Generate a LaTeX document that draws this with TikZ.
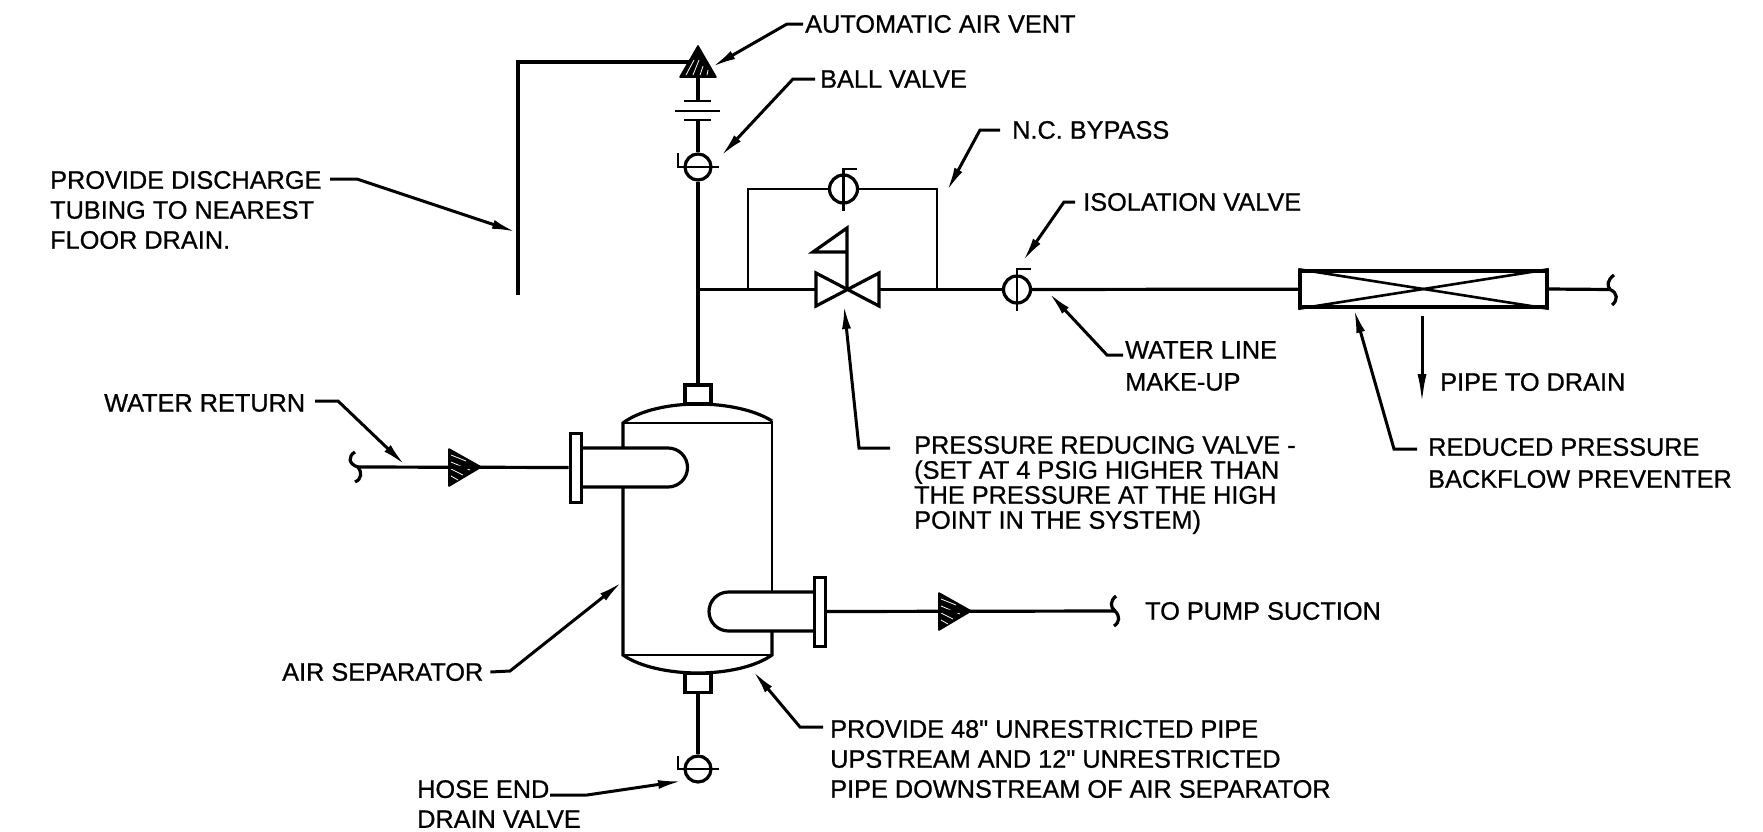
\documentclass[tikz,border=0pt]{standalone}
\usepackage{fontspec}
\setmainfont{Liberation Sans}[Ligatures=TeXOff, RawFeature={embolden=0.8}]
\usetikzlibrary{arrows.meta}
\usetikzlibrary{shapes.geometric}

\tikzset{
  pipe/.style={line width=3.2pt},
  thinpipe/.style={line width=2.6pt},
  leader/.style={line width=3pt, -{Latex[length=24pt, width=9pt]}},
  hatch/.style={white, line width=0.8pt},
  arrowhead/.style={line width=1.6pt, line join=round},
  notetext/.style={anchor=west, inner sep=0pt, align=left, font=\fontsize{25.3}{30}\selectfont},
  valve/.style={shape=circle, draw, line width=3.2pt, inner sep=0pt, minimum size=26pt},
  nozzle/.style={shape=rectangle, draw, line width=3.2pt, inner sep=0pt, minimum width=26pt, minimum height=19pt},
  flange/.style={shape=rectangle, draw, line width=3pt, inner sep=0pt, minimum width=11pt, minimum height=69pt},
}

\begin{document}
\begin{tikzpicture}[x=1pt, y=-1pt]
  \useasboundingbox (0, 0) rectangle (1763, 831);

  \node (ventnote) at (805, 24) [notetext] {AUTOMATIC AIR VENT};
  \node (ballnote) at (820, 79) [notetext] {BALL VALVE};
  \node (bypassnote) at (1012, 130) [notetext] {N.C. BYPASS};
  \node (isonote) at (1083, 202) [notetext] {ISOLATION VALVE};
  \node (makeupnote) at (1125, 366) [notetext] {WATER LINE\\[2pt]MAKE-UP};
  \node (drainnote) at (1440, 382) [notetext] {PIPE TO DRAIN};
  \node (bfpnote) at (1428, 463) [notetext] {REDUCED PRESSURE\\[2pt]BACKFLOW PREVENTER};
  \node (prvnote) at (914, 485) [notetext] {PRESSURE REDUCING VALVE -\\[-5pt](SET AT 4 PSIG HIGHER THAN\\[-5pt]THE PRESSURE AT THE HIGH\\[-5pt]POINT IN THE SYSTEM)};
  \node (dischargenote) at (50, 210) [notetext] {PROVIDE DISCHARGE\\TUBING TO NEAREST\\FLOOR DRAIN.};
  \node (returnnote) at (104, 403) [notetext] {WATER RETURN};
  \node (suctionnote) at (1145, 611) [notetext] {TO PUMP SUCTION};
  \node (separatornote) at (282, 672) [notetext] {AIR SEPARATOR};
  \node (unrestrictednote) at (830, 759) [notetext] {PROVIDE 48" UNRESTRICTED PIPE\\UPSTREAM AND 12" UNRESTRICTED\\PIPE DOWNSTREAM OF AIR SEPARATOR};
  \node (hosenote) at (417, 804) [notetext] {HOSE END\\DRAIN VALVE};

  \coordinate (ventapex) at (698, 46);
  \coordinate (ventleft) at (680, 77);
  \coordinate (ventright) at (716, 77);
  \coordinate (ventbase) at (698, 78);
  \coordinate (unionbar) at (698, 101);
  \coordinate (unionlow) at (698, 120);
  \coordinate (tubestart) at (690, 62);
  \coordinate (tubecorner) at (518, 62);
  \coordinate (tubeend) at (518, 295);
  \coordinate (tee) at (698, 289.5);
  \coordinate (bypassin) at (748, 289.5);
  \coordinate (bypassincorner) at (748, 189);
  \coordinate (bypassoutcorner) at (937, 189);
  \coordinate (bypassout) at (937, 289.5);
  \coordinate (prvleft) at (816, 289.5);
  \coordinate (prvright) at (879, 289.5);
  \coordinate (prvcentre) at (847, 289.5);
  \coordinate (prvtop) at (847, 228);
  \coordinate (bfpoutend) at (1610, 289.5);
  \coordinate (returnend) at (358, 467);
  \coordinate (suctionend) at (1115, 611);
  \coordinate (draintop) at (1422, 316);
  \coordinate (drainend) at (1422, 404);

  \coordinate (venttip) at (712, 67);
  \coordinate (balltip) at (721, 156);
  \coordinate (bypasstip) at (947, 191);
  \coordinate (isotip) at (1023, 261);
  \coordinate (makeuptip) at (1049, 293);
  \coordinate (bfptip) at (1354, 309);
  \coordinate (prvtip) at (844, 305);
  \coordinate (dischargetip) at (516, 232);
  \coordinate (returntip) at (405, 465);
  \coordinate (separatortip) at (622, 582);
  \coordinate (unrestrictedtip) at (753, 671);
  \coordinate (hosetip) at (682, 781);

  \coordinate (makeupstart) at (1123, 355);
  \coordinate (bfpstart) at (1417, 449);
  \coordinate (prvstart) at (890, 448);
  \coordinate (dischargestart) at (330, 179);
  \coordinate (returnstart) at (315, 401);
  \coordinate (unrestrictedstart) at (823, 727);
  \coordinate (hosestart) at (550, 795);

  \node (ballvalve) at (698, 167) [valve] {};
  \node (bypassvalve) at (843.5, 189) [valve, minimum size=28pt] {};
  \node (isovalve) at (1017, 289.5) [valve, minimum size=27pt] {};
  \node (drainvalve) at (698, 769) [valve] {};
  \node (topnozzle) at (698, 394.5) [nozzle] {};
  \node (bottomnozzle) at (698, 683) [nozzle] {};
  \node (inflange) at (575.5, 467.5) [flange] {};
  \node (outflange) at (820, 611.5) [flange] {};
  \node (bfp) at (1423.5, 289) [shape=rectangle, draw, line width=3.6pt, inner sep=0pt, minimum width=247pt, minimum height=36pt] {};

  \filldraw[arrowhead] (ventapex) -- (ventleft) -- (ventright) -- cycle;
  \filldraw[arrowhead] (449, 449) -- (481, 467) -- (449, 486) -- cycle;
  \filldraw[arrowhead] (939, 593) -- (971, 611) -- (939, 630) -- cycle;
  \draw[hatch] (686, 75) -- (694, 60);
  \draw[hatch] (693, 75) -- (699, 60);
  \draw[hatch] (700, 75) -- (703, 66);
  \draw[hatch] (707, 75) -- (708, 70);
  \draw[hatch] (451, 455) -- (466, 461);
  \draw[hatch] (451, 462) -- (470, 470);
  \draw[hatch] (451, 469) -- (463, 475);
  \draw[hatch] (451, 476) -- (458, 480);
  \draw[hatch] (941, 599) -- (956, 605);
  \draw[hatch] (941, 606) -- (960, 614);
  \draw[hatch] (941, 613) -- (953, 619);
  \draw[hatch] (941, 620) -- (948, 624);

  \draw[pipe] (tubestart) -- (tubecorner) -- (tubeend);
  \draw[pipe] (ventbase) -- (unionbar);
  \draw[thinpipe] (684, 101) -- (711, 101);
  \draw[thinpipe] (675, 111) -- (720, 111);
  \draw[thinpipe] (684, 120) -- (711, 120);
  \draw[pipe] (unionlow) -- (ballvalve);
  \draw[pipe] (ballvalve) -- (topnozzle);
  \draw[pipe] (bottomnozzle) -- (drainvalve);
  \draw[thinpipe] (678, 153) -- (678, 167) -- (719, 167);
  \draw[thinpipe] (678, 756) -- (678, 769) -- (719, 769);

  \draw[pipe] (tee) -- (prvleft);
  \draw[thinpipe] (bypassin) -- (bypassincorner) -- (bypassvalve);
  \draw[thinpipe] (bypassvalve) -- (bypassoutcorner) -- (bypassout);
  \draw[thinpipe] (843.5, 211) -- (843.5, 169) -- (857, 169);
  \draw[pipe] (prvright) -- (isovalve);
  \draw[pipe] (816, 273) -- (816, 306) -- (879, 273) -- (879, 306) -- cycle;
  \draw[pipe] (prvcentre) -- (prvtop) -- (813, 252) -- (847, 252);
  \draw[thinpipe] (1017, 311) -- (1017, 269) -- (1031, 269);
  \draw[pipe] (isovalve) -- (bfp);
  \draw[thinpipe] (bfp.north west) -- (bfp.south east);
  \draw[thinpipe] (bfp.south west) -- (bfp.north east);
  \draw[pipe] (bfp.east) -- (bfpoutend);
  \draw[pipe] (1614, 275) .. controls (1607, 280) and (1607, 286) .. (bfpoutend) .. controls (1618, 293) and (1618, 300) .. (1612, 305);

  \draw[pipe] (623, 448) -- (623, 423) .. controls (640, 410) and (670, 404) .. (698, 404) .. controls (726, 404) and (755, 410) .. (772, 421);
  \draw[thinpipe] (772, 421) -- (772, 592);
  \draw[pipe] (623, 487) -- (623, 655) .. controls (640, 667) and (670, 673) .. (698, 673) .. controls (726, 673) and (755, 667) .. (772, 655) -- (772, 631);
  \draw[thinpipe] (623, 423) -- (772, 423);
  \draw[thinpipe] (623, 655) -- (772, 655);
  \draw[pipe] (581, 448) -- (668, 448) arc[start angle=-90, end angle=90, radius=19.5] -- (581, 487);
  \draw[pipe] (814, 592) -- (728.5, 592) arc[start angle=270, end angle=90, radius=19.5] -- (814, 631);

  \draw[pipe] (inflange) -- (returnend);
  \draw[pipe] (355, 452) .. controls (348, 456) and (348, 464) .. (returnend) .. controls (362, 472) and (362, 479) .. (355, 482);
  \draw[pipe] (outflange) -- (suctionend);
  \draw[pipe] (1116, 596) .. controls (1110, 601) and (1110, 607) .. (suctionend) .. controls (1120, 616) and (1120, 622) .. (1114, 626);
  \draw[line width=3pt, -{Latex[length=30pt, width=9pt]}] (draintop) -- (drainend);

  \draw[leader] ([xshift=-2pt]ventnote.west) -- (787, 24) -- (venttip);
  \draw[leader] ([xshift=-5pt]ballnote.west) -- (793, 79) -- (balltip);
  \draw[leader] ([xshift=-12pt]bypassnote.west) -- (980, 130) -- (bypasstip);
  \draw[leader] ([xshift=-8pt]isonote.west) -- (1064, 202) -- (isotip);
  \draw[leader] (makeupstart) -- (1107, 355) -- (makeuptip);
  \draw[leader] (bfpstart) -- (1394, 449) -- (bfptip);
  \draw[leader] (prvstart) -- (859, 448) -- (prvtip);
  \draw[leader] (dischargestart) -- (357, 179) -- (dischargetip);
  \draw[leader] (returnstart) -- (338, 401) -- (returntip);
  \draw[leader] ([xshift=7pt]separatornote.east) -- (510, 671) -- (separatortip);
  \draw[leader] (unrestrictedstart) -- (800, 727) -- (unrestrictedtip);
  \draw[leader] (hosestart) -- (587, 795) -- (hosetip);
\end{tikzpicture}
\end{document}
